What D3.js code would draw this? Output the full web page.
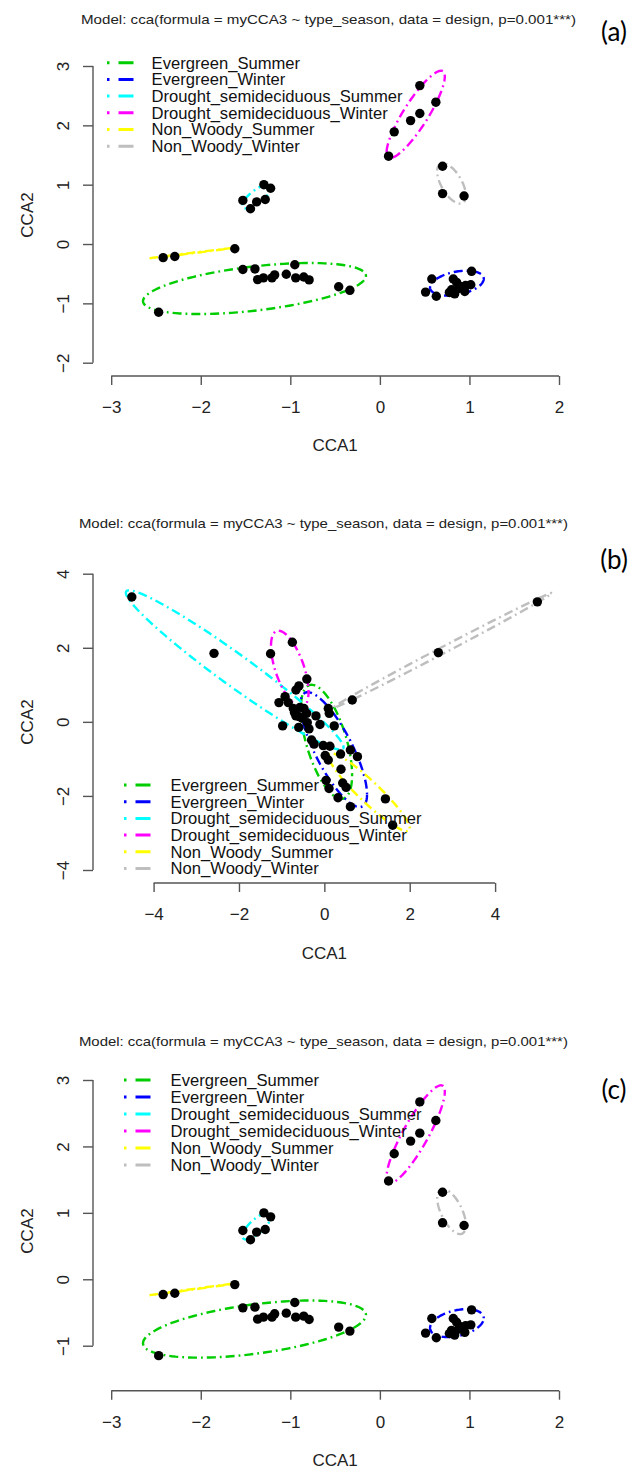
<!DOCTYPE html>
<html><head><meta charset="utf-8">
<script src="https://cdn.jsdelivr.net/npm/d3@7"></script>
<style>body{margin:0;background:#fff}svg{display:block}</style>
</head><body>
<svg id="chart" width="633" height="1470"></svg>
<script>
// ---------- data ----------
const groups = ["Evergreen_Summer","Evergreen_Winter","Drought_semideciduous_Summer","Drought_semideciduous_Winter","Non_Woody_Summer","Non_Woody_Winter"];
const groupColors = ["#00CD00","#0000FF","#00FFFF","#FF00FF","#FFFF00","#BEBEBE"];
const titleText = "Model: cca(formula = myCCA3 ~ type_season, data = design, p=0.001***)";
const panelTags = ["(a)","(b)","(c)"];

// site scores used for panels (a) and (c)
const acGroup = [0,0,0,0,0,0,0,0,0,0,0,0,0,0,
                 1,1,1,1,1,1,1,1,1,1,1,1,1,1,
                 2,2,2,2,2,2, 3,3,3,3,3,3, 4,4,4, 5,5,5];
const acX = [-1.53,-1.395,-1.365,-1.30,-1.205,-1.175,-1.045,-0.95,-0.94,-0.85,-0.79,-0.46,-0.335,-2.47,
             0.51,0.58,0.63,0.776,0.82,0.835,0.857,0.90,0.948,0.957,1.015,1.024,0.80,0.88,
             -1.295,-1.22,-1.53,-1.445,-1.376,-1.28,
             0.446,0.625,0.446,0.343,0.16,0.097,
             -1.62,-2.29,-2.42,
             0.70,0.70,0.94];
const acY = [-0.43,-0.42,-0.60,-0.57,-0.57,-0.52,-0.51,-0.35,-0.57,-0.555,-0.605,-0.72,-0.78,-1.15,
             -0.81,-0.59,-0.88,-0.816,-0.59,-0.84,-0.647,-0.715,-0.80,-0.70,-0.687,-0.46,-0.77,-0.75,
             1.00,0.94,0.735,0.595,0.71,0.75,
             2.67,2.39,2.20,2.08,1.89,1.48,
             -0.08,-0.21,-0.23,
             1.31,0.85,0.81];
// ellipses (a)/(c): centre, half x-extent, half y-extent, correlation
const acEllCx = [-1.40, 0.86, -1.375, 0.40, -2.075, 0.80];
const acEllCy = [-0.75, -0.66, 0.80, 2.185, -0.148, 1.02];
const acEllSx = [1.245, 0.30, 0.16, 0.325, 0.495, 0.16];
const acEllSy = [0.43, 0.21, 0.20, 0.735, 0.092, 0.34];
const acEllR  = [0.495, 0.35, 0.75, 0.87, 0.999, -0.6];

// site scores for panel (b)
const bGroup = [2,2,3,3,3,3,3,2,2,3, 0,0,1,0,1,0,1,0,1,2, 2,0,1,0,1,5,0,1,0,1, 0,1,0,1,1,0,0,1,0,1, 0,4,4,4,5,5, 1,0];
const bX = [-4.51,-2.585,-1.26,-0.75,-0.41,-0.595,-0.665,-0.92,-1.063,-0.845,
            -0.728,-0.57,-0.478,-0.665,-0.588,-0.415,-0.197,0.092,0.115,-0.40,
            -0.977,-0.60,-0.36,-0.103,0.232,0.654,-0.30,-0.24,-0.026,0.13,
            0.02,0.092,0.38,0.61,0.775,0.39,0.04,0.11,0.43,0.51,
            0.32,0.61,1.43,1.60,4.99,2.67,
            -0.70,-0.52];
const bY = [3.37,1.85,1.84,2.15,1.155,0.97,0.86,0.68,0.52,0.52,
            0.36,0.39,0.36,0.16,0.14,0.23,0.16,0.36,0.23,-0.02,
            -0.11,-0.15,-0.19,-0.07,-0.11,0.59,-0.49,-0.60,-0.64,-0.66,
            -0.91,-1.03,-0.87,-0.76,-0.94,-1.28,-1.58,-1.80,-1.65,-1.77,
            -2.05,-2.29,-2.08,-2.79,3.24,1.87,
            0.25,0.10];
const bEllCx = [0.05, 0.22, -2.10, -0.81, 1.05, 2.77];
const bEllCy = [-0.54, -0.75, 1.40, 1.43, -1.90, 1.93];
const bEllSx = [0.60, 0.78, 2.55, 0.44, 0.95, 2.56];
const bEllSy = [1.54, 1.55, 2.15, 1.03, 1.05, 1.55];
const bEllR  = [-0.58, -0.78, -0.97, -0.60, -0.93, 0.998];

const xTicksAC = [-3,-2,-1,0,1,2];
const yTicksA = [-2,-1,0,1,2,3];
const yTicksC = [-1,0,1,2,3];
const xTicksB = [-4,-2,0,2,4];
const yTicksB = [-4,-2,0,2,4];
const xLabel = "CCA1", yLabel = "CCA2";

// ---------- layout ----------
const FONT = "'Liberation Sans', Arial, sans-serif";
const panels = [
  {tag: panelTags[0], xDom:[-3,2], xRng:[111.2,559], yDom:[-2,3], yRng:[362.7,66], xTicks:xTicksAC, yTicks:yTicksA,
   axisY:376, titleY:19.3, titleW:495, titleCx:328.5, tagY:32, legX:107, legTextX:151.6, legY:62.7, legStep:16.7,
   ylabY:215, xlabY:445,
   gx: acX, gy: acY, gg: acGroup, e:[acEllCx,acEllCy,acEllSx,acEllSy,acEllR]},
  {tag: panelTags[1], xDom:[-4,4], xRng:[153.6,495.1], yDom:[-4,4], yRng:[870,573.7], xTicks:xTicksB, yTicks:yTicksB,
   axisY:883, titleY:523.3, titleW:489, titleCx:323.4, tagY:560, legX:124, legTextX:170.6, legY:785, legStep:16.7,
   ylabY:722, xlabY:953.3,
   gx: bX, gy: bY, gg: bGroup, e:[bEllCx,bEllCy,bEllSx,bEllSy,bEllR]},
  {tag: panelTags[2], xDom:[-3,2], xRng:[111.2,559], yDom:[-1,3], yRng:[1345.7,1080], xTicks:xTicksAC, yTicks:yTicksC,
   axisY:1390.7, titleY:1041.7, titleW:489, titleCx:323.4, tagY:1090, legX:124, legTextX:170.6, legY:1080, legStep:17,
   ylabY:1231, xlabY:1460,
   gx: acX, gy: acY, gg: acGroup, e:[acEllCx,acEllCy,acEllSx,acEllSy,acEllR]}
];

const svg = d3.select("#chart");
const axisCol = "#555";
const yAxisX = 93;

panels.forEach(p => {
  const g = svg.append("g");
  const x = d3.scaleLinear().domain(p.xDom).range(p.xRng);
  const y = d3.scaleLinear().domain(p.yDom).range(p.yRng);

  // title
  g.append("text").attr("x", p.titleCx).attr("y", p.titleY).attr("dy","0.35em")
    .attr("text-anchor","middle").attr("font-family", FONT).attr("font-size", 13.5)
    .attr("fill","#222").attr("textLength", p.titleW).attr("lengthAdjust","spacingAndGlyphs")
    .text(titleText);
  // panel tag
  g.append("text").attr("x", 614).attr("y", p.tagY).attr("dy","0.35em")
    .attr("text-anchor","middle").attr("font-family","Lato, 'Open Sans', sans-serif").attr("font-size", 26)
    .attr("fill","#000").text(p.tag);

  // x axis
  const xa = g.append("g").attr("transform", `translate(0,${p.axisY})`)
    .call(d3.axisBottom(x).tickValues(p.xTicks).tickSize(9).tickPadding(14)
      .tickFormat(d => d < 0 ? "\u2212" + Math.abs(d) : String(d)));
  xa.select(".domain").attr("stroke", axisCol).attr("stroke-width",1.4)
    .attr("d", `M${x(p.xTicks[0])},0H${x(p.xTicks[p.xTicks.length-1])}`);
  xa.selectAll(".tick line").attr("stroke", axisCol).attr("stroke-width",1.4);
  xa.selectAll(".tick text").attr("font-family", FONT).attr("font-size", 17).attr("fill","#222")
    .attr("y", 31).attr("dy","0.35em");

  // y axis
  const ya = g.append("g").attr("transform", `translate(${yAxisX},0)`)
    .call(d3.axisLeft(y).tickValues(p.yTicks).tickSize(10)
      .tickFormat(d => d < 0 ? "\u2212" + Math.abs(d) : String(d)));
  ya.select(".domain").attr("stroke", axisCol).attr("stroke-width",1.4)
    .attr("d", `M0,${y(p.yTicks[0])}V${y(p.yTicks[p.yTicks.length-1])}`);
  ya.selectAll(".tick line").attr("stroke", axisCol).attr("stroke-width",1.4);
  ya.selectAll(".tick text").attr("font-family", FONT).attr("font-size", 17).attr("fill","#222")
    .attr("x", null).attr("dy", null).attr("text-anchor","middle")
    .attr("transform", "translate(-30.4,0) rotate(-90)").attr("y", 0).attr("dy","0.35em");

  // axis labels
  g.append("text").attr("x", (p.xRng[0]+p.xRng[1])/2).attr("y", p.xlabY).attr("dy","0.35em")
    .attr("text-anchor","middle").attr("font-family", FONT).attr("font-size", 17).attr("fill","#222").text(xLabel);
  g.append("text").attr("transform", `translate(27,${p.ylabY}) rotate(-90)`).attr("dy","0.35em")
    .attr("text-anchor","middle").attr("font-family", FONT).attr("font-size", 17).attr("fill","#222").text(yLabel);

  // ellipses
  const [ecx, ecy, esx, esy, er] = p.e;
  const line = d3.line().x(d => x(d[0])).y(d => y(d[1])).curve(d3.curveLinearClosed);
  groups.forEach((grp, i) => {
    const pts = d3.range(0, 120).map(k => {
      const t = k / 120 * 2 * Math.PI;
      return [ecx[i] + esx[i]*Math.cos(t),
              ecy[i] + esy[i]*(er[i]*Math.cos(t) + Math.sqrt(1 - er[i]*er[i])*Math.sin(t))];
    });
    g.append("path").attr("d", line(pts)).attr("fill","none")
      .attr("stroke", groupColors[i]).attr("stroke-width", 2.4)
      .attr("stroke-dasharray","1.8,4,9,4");
  });

  // points
  g.append("g").selectAll("circle").data(d3.range(p.gx.length)).join("circle")
    .attr("cx", i => x(p.gx[i])).attr("cy", i => y(p.gy[i])).attr("r", 4.7).attr("fill","#000");

  // legend
  const leg = g.append("g");
  groups.forEach((grp, i) => {
    const ry = p.legY + i * p.legStep;
    leg.append("line").attr("x1", p.legX).attr("x2", p.legX + 27).attr("y1", ry).attr("y2", ry)
      .attr("stroke", groupColors[i]).attr("stroke-width", 3).attr("stroke-dasharray","2.5,9,15,40");
    leg.append("text").attr("x", p.legTextX).attr("y", ry).attr("dy","0.35em")
      .attr("font-family", FONT).attr("font-size", 16.6).attr("fill","#111").text(grp);
  });
});
</script>
</body></html>
